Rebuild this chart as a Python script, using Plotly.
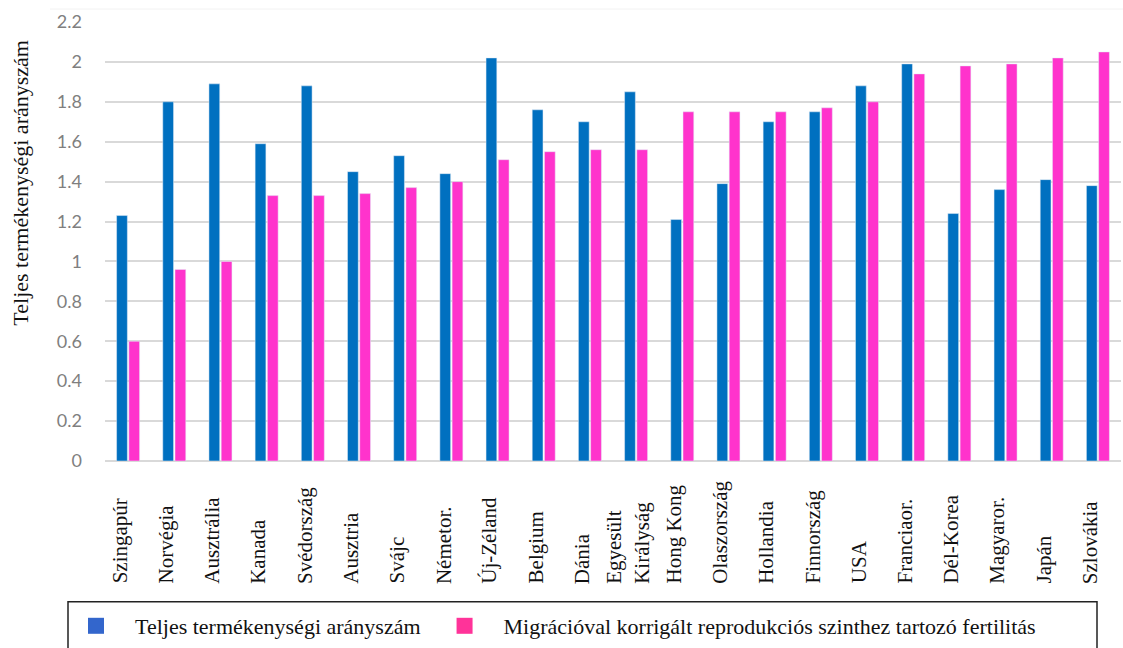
import plotly.graph_objects as go

# Countries (x axis) and the two fertility measures per country
countries = [
    "Szingapúr", "Norvégia", "Ausztrália", "Kanada", "Svédország", "Ausztria",
    "Svájc", "Németor.", "Új-Zéland", "Belgium", "Dánia", "Egyesült<br>Királyság",
    "Hong Kong", "Olaszország", "Hollandia", "Finnország", "USA", "Franciaor.",
    "Dél-Korea", "Magyaror.", "Japán", "Szlovákia",
]
tfr = [
    1.23, 1.80, 1.89, 1.59, 1.88, 1.45, 1.53, 1.44, 2.02, 1.76, 1.70,
    1.85, 1.21, 1.39, 1.70, 1.75, 1.88, 1.99, 1.24, 1.36, 1.41, 1.38,
]
migration_adjusted = [
    0.60, 0.96, 1.00, 1.33, 1.33, 1.34, 1.37, 1.40, 1.51, 1.55, 1.56,
    1.56, 1.75, 1.75, 1.75, 1.77, 1.80, 1.94, 1.98, 1.99, 2.02, 2.05,
]
series_names = [
    "Teljes termékenységi arányszám",
    "Migrációval korrigált reprodukciós szinthez tartozó fertilitás",
]
y_title = "Teljes termékenységi arányszám"

BLUE = "#0070C0"
PINK = "#FF33CC"
SERIF = "Liberation Serif, Times New Roman, serif"

W, H = 1123, 648
L, R, T, B = 105, 2, 22, 186
plot_w = W - L - R
plot_h = H - T - B


def px_x(p):
    return (p - L) / plot_w


def px_y(p):
    return (H - B - p) / plot_h


idx = list(range(len(countries)))

fig = go.Figure()
fig.add_trace(go.Bar(x=idx, y=tfr, marker_color=BLUE, showlegend=False))
fig.add_trace(go.Bar(x=idx, y=migration_adjusted, marker_color=PINK, showlegend=False))

# legend-only entries with square swatches
fig.add_trace(go.Scatter(x=[None], y=[None], mode="markers", name=series_names[0],
                         marker=dict(symbol="square", size=16, color="#3366CC")))
fig.add_trace(go.Scatter(x=[None], y=[None], mode="markers", name=series_names[1],
                         marker=dict(symbol="square", size=16, color="#FF3399")))

# rotated category labels, aligned at their starting end
annotations = []
for i, name in enumerate(countries):
    annotations.append(dict(
        x=i, xref="x", y=px_y(587), yref="paper",
        text=name, textangle=-90, showarrow=False,
        xanchor="center", yanchor="bottom", align="left", xshift=-8,
        font=dict(family=SERIF, size=21, color="#111111"),
    ))

annotations.append(dict(
    x=px_x(21), xref="paper", y=px_y(183), yref="paper",
    text=y_title, textangle=-90, showarrow=False,
    xanchor="center", yanchor="middle",
    font=dict(family=SERIF, size=22, color="#111111"),
))

fig.update_layout(
    width=W, height=H,
    margin=dict(l=L, r=R, t=T, b=B, pad=0),
    paper_bgcolor="white", plot_bgcolor="white",
    barmode="group", bargap=0.47, bargroupgap=0.12,
    annotations=annotations,
    shapes=[
        dict(type="rect", xref="paper", yref="paper",
             x0=px_x(68), x1=px_x(1097), y0=px_y(603), y1=px_y(670),
             line=dict(color="#222222", width=1.5), fillcolor="rgba(0,0,0,0)"),
        dict(type="line", xref="paper", yref="paper",
             x0=px_x(50), x1=px_x(W), y0=px_y(9), y1=px_y(9),
             line=dict(color="#F2F2F2", width=1)),
    ],
    legend=dict(
        orientation="h", x=px_x(57), xanchor="left", y=px_y(605), yanchor="top",
        bgcolor="rgba(0,0,0,0)", borderwidth=0,
        font=dict(family=SERIF, size=22, color="#111111"),
        itemwidth=68, itemsizing="trace",
    ),
    xaxis=dict(
        range=[-0.5, len(countries) - 0.5], showticklabels=False, ticks="",
        showgrid=False, zeroline=False, showline=False, fixedrange=True,
    ),
    yaxis=dict(
        range=[0, 2.2], dtick=0.2, tick0=0,
        showgrid=True, gridcolor="#D9D9D9", gridwidth=1.5,
        zeroline=True, zerolinecolor="#D9D9D9", zerolinewidth=1.5,
        showline=False, ticks="", ticklabelstandoff=22,
        tickfont=dict(family="Lato, Carlito, sans-serif", size=18, color="#7F7F7F"),
    ),
)

fig.write_html("out.html")
